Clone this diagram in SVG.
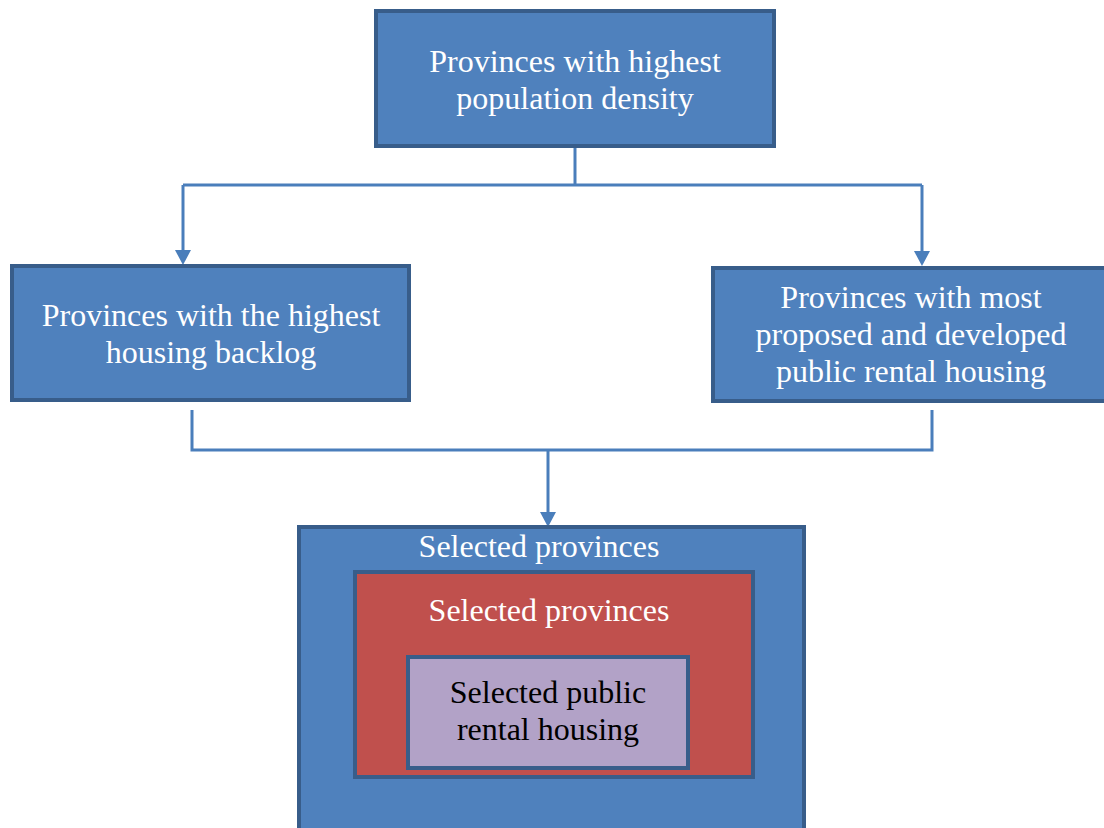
<svg xmlns="http://www.w3.org/2000/svg" width="1104" height="828" viewBox="0 0 1104 828">
  <style>
    .box { stroke: #385D8A; stroke-width: 4; }
    .blue { fill: #4F81BD; }
    .red { fill: #C0504D; }
    .lilac { fill: #B2A2C7; }
    .label { font-family: "Liberation Serif", "Times New Roman", serif; font-size: 32px; text-anchor: middle; fill: #FFFFFF; }
    .dark { fill: #000000; }
    .conn { fill: none; stroke: #4A7EBB; stroke-width: 3; }
  </style>
  <defs>
    <marker id="arrow" markerUnits="userSpaceOnUse" markerWidth="15" markerHeight="16" refX="0" refY="8" orient="auto">
      <path d="M0,0 L15,8 L0,16 z" fill="#4A7EBB"/>
    </marker>
  </defs>

  <rect width="1104" height="828" fill="#FFFFFF"/>

  <!-- connectors -->
  <g id="connectors">
    <path class="conn" d="M575,148 V185"/>
    <path class="conn" d="M183,185 H922"/>
    <path class="conn" d="M183,185 V250" marker-end="url(#arrow)"/>
    <path class="conn" d="M922,185 V251" marker-end="url(#arrow)"/>
    <path class="conn" d="M192,410 V450 H932 V410"/>
    <path class="conn" d="M548,450 V512" marker-end="url(#arrow)"/>
  </g>

  <!-- top: population density -->
  <g id="density">
    <rect class="box blue" x="376" y="11" width="398" height="135"/>
    <text class="label" x="575" y="72">Provinces with highest</text>
    <text class="label" x="575" y="109">population density</text>
  </g>

  <!-- left: housing backlog -->
  <g id="backlog">
    <rect class="box blue" x="12" y="266" width="397" height="134"/>
    <text class="label" x="211" y="326">Provinces with the highest</text>
    <text class="label" x="211" y="363">housing backlog</text>
  </g>

  <!-- right: public rental housing -->
  <g id="rental">
    <rect class="box blue" x="713" y="268" width="398" height="133"/>
    <text class="label" x="911" y="308">Provinces with most</text>
    <text class="label" x="911" y="345">proposed and developed</text>
    <text class="label" x="911" y="382">public rental housing</text>
  </g>

  <!-- bottom: nested selection -->
  <g id="selected-outer">
    <rect class="box blue" x="299" y="527" width="505" height="320"/>
    <text class="label" x="539" y="557">Selected provinces</text>
  </g>
  <g id="selected-inner">
    <rect class="box red" x="355" y="572" width="398" height="205"/>
    <text class="label" x="549" y="621">Selected provinces</text>
  </g>
  <g id="selected-housing">
    <rect class="box lilac" x="408" y="657" width="280" height="111"/>
    <text class="label dark" x="548" y="703">Selected public</text>
    <text class="label dark" x="548" y="740">rental housing</text>
  </g>
</svg>
